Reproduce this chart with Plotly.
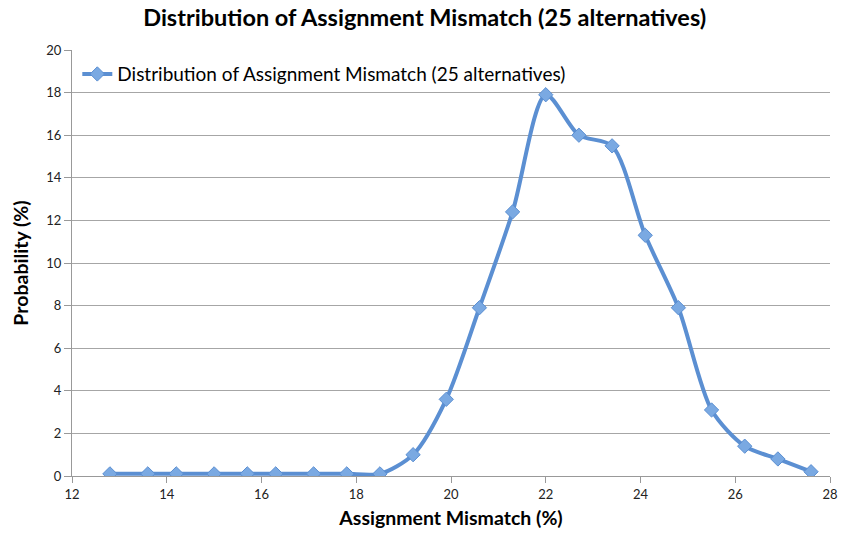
import plotly.graph_objects as go

mismatch = [12.8, 13.6, 14.2, 15.0, 15.7, 16.3, 17.1, 17.8, 18.5, 19.2, 19.9,
            20.6, 21.3, 22.0, 22.7, 23.4, 24.1, 24.8, 25.5, 26.2, 26.9, 27.6]
probability = [0.1, 0.1, 0.1, 0.1, 0.1, 0.1, 0.1, 0.1, 0.1, 1.0, 3.6,
               7.9, 12.4, 17.9, 16.0, 15.5, 11.3, 7.9, 3.1, 1.4, 0.8, 0.2]
series_name = "Distribution of Assignment Mismatch (25 alternatives)"
x_ticks = [12, 14, 16, 18, 20, 22, 24, 26, 28]
y_ticks = [0, 2, 4, 6, 8, 10, 12, 14, 16, 18, 20]

FONT = "Lato, 'Open Sans', sans-serif"

fig = go.Figure()
fig.add_trace(go.Scatter(
    x=mismatch, y=probability, name=series_name,
    mode="lines+markers",
    line=dict(color="#5b8fd2", width=4, shape="spline", smoothing=0.8),
    marker=dict(symbol="diamond", size=11, color="#7aa9e2",
                line=dict(color="#5b8fd2", width=1)),
    showlegend=True,
))

fig.update_layout(
    width=841, height=543,
    paper_bgcolor="white", plot_bgcolor="white",
    margin=dict(l=72, r=11, t=50, b=67),
    title=dict(text="<b>Distribution of Assignment Mismatch (25 alternatives)</b>",
               x=0.505, xanchor="center", y=0.967, yanchor="middle",
               font=dict(family=FONT, size=23.5, color="black")),
    font=dict(family=FONT, color="#222"),
    legend=dict(x=0.007, y=0.988, xanchor="left", yanchor="top",
                bgcolor="rgba(0,0,0,0)", font=dict(size=19, color="black"),
                itemwidth=30),
    xaxis=dict(range=[12, 28], tickvals=x_ticks, ticktext=[str(v) for v in x_ticks],
               automargin=False,
               showgrid=False, showline=True, linecolor="#999", linewidth=1,
               ticks="outside", ticklen=6, tickcolor="#999",
               tickfont=dict(size=13, color="#222"),
               title=dict(text="<b>Assignment Mismatch (%)</b>", standoff=10,
                          font=dict(size=19.5, color="black")),
               zeroline=False),
    yaxis=dict(range=[0, 20], tickvals=y_ticks, ticktext=[str(v) for v in y_ticks],
               automargin=False,
               showgrid=True, gridcolor="#a6a6a6", gridwidth=1,
               showline=True, linecolor="#999", linewidth=1,
               ticks="outside", ticklen=7, tickcolor="#999",
               tickfont=dict(size=13, color="#222"),
               title=dict(text="<b>Probability (%)</b>", standoff=12,
                          font=dict(size=19.5, color="black")),
               zeroline=False),
)

fig.write_html("out.html", config={"displayModeBar": False},
               post_script="document.body.style.margin='0';")
